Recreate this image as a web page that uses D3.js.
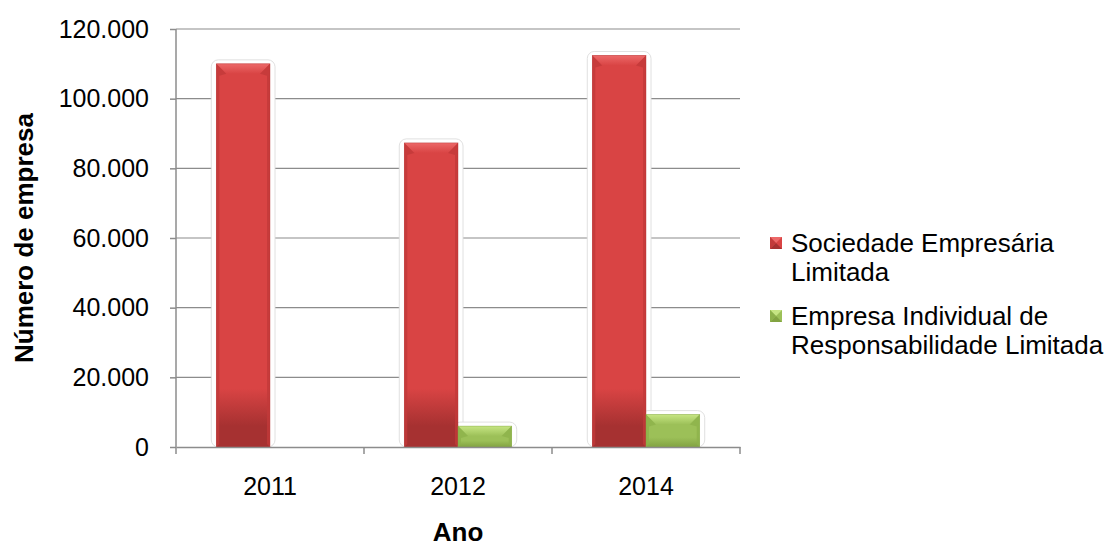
<!DOCTYPE html>
<html>
<head>
<meta charset="utf-8">
<script src="https://cdn.jsdelivr.net/npm/d3@7"></script>
<style>
  html, body { margin: 0; padding: 0; background: #fff; }
  svg { display: block; font-family: "Liberation Sans", Arial, sans-serif; }
</style>
</head>
<body>
<svg id="chart" width="1112" height="547"></svg>
<script>
// Número de empresas por natureza jurídica
const anos = ["2011", "2012", "2014"];
const seriesNames = ["Sociedade Empresária Limitada", "Empresa Individual de Responsabilidade Limitada"];
const sociedadeLimitada = [110000, 87300, 112400];
const eireli = [null, 6000, 9300];
const yTicks = [0, 20000, 40000, 60000, 80000, 100000, 120000];

const svg = d3.select("#chart");
const margin = { left: 176, right: 372, top: 29, bottom: 100 };
const W = 1112, H = 547;
const plotW = W - margin.left - margin.right;
const plotH = H - margin.top - margin.bottom;
const TICK_FS = 25, LEGEND_FS = 26, TITLE_FS = 26;

const ptBR = d3.formatLocale({ decimal: ",", thousands: ".", grouping: [3], currency: ["R$", ""] });
const fmt = ptBR.format(",.0f");

const x0 = d3.scaleBand().domain(anos).range([0, plotW]);
const inner = d3.scaleBand().domain([0, 1]).range([0, x0.bandwidth()]).paddingOuter(0.75).paddingInner(0);
const y = d3.scaleLinear().domain([0, 120000]).range([plotH, 0]);

const palette = [
  { base: "#d94444", top: "#ec6868", side: "#c23a3a", bottom: "#a63131", stroke: "#b53636" },
  { base: "#9cc058", top: "#c6e583", side: "#8db14b", bottom: "#82a342", stroke: "#86a845" }
];

const defs = svg.append("defs");
// red body: darkens gradually over the last stretch above the baseline
{
  const p = palette[0];
  const gr = defs.append("linearGradient").attr("id", "fill0")
    .attr("gradientUnits", "userSpaceOnUse")
    .attr("x1", 0).attr("x2", 0).attr("y1", 0).attr("y2", plotH);
  gr.append("stop").attr("offset", 0).attr("stop-color", p.base);
  gr.append("stop").attr("offset", 0.86).attr("stop-color", p.base);
  gr.append("stop").attr("offset", 0.95).attr("stop-color", p.bottom);
  gr.append("stop").attr("offset", 1).attr("stop-color", p.bottom);
}
// green body: gentle darkening within each bar
{
  const p = palette[1];
  const gr = defs.append("linearGradient").attr("id", "fill1")
    .attr("x1", 0).attr("x2", 0).attr("y1", 0).attr("y2", 1);
  gr.append("stop").attr("offset", 0).attr("stop-color", p.base);
  gr.append("stop").attr("offset", 0.7).attr("stop-color", p.base);
  gr.append("stop").attr("offset", 1).attr("stop-color", p.bottom);
}
palette.forEach((p, i) => {
  const t = defs.append("linearGradient").attr("id", "top" + i)
    .attr("x1", 0).attr("x2", 0).attr("y1", 0).attr("y2", 1);
  t.append("stop").attr("offset", 0).attr("stop-color", p.top);
  t.append("stop").attr("offset", 1).attr("stop-color", p.base);
});

const g = svg.append("g").attr("transform", `translate(${margin.left},${margin.top})`);

// gridlines
g.append("g").selectAll("line").data(yTicks.filter(d => d > 0)).join("line")
  .attr("x1", 0).attr("x2", plotW)
  .attr("y1", d => y(d)).attr("y2", d => y(d))
  .attr("stroke", "#8c8c8c").attr("stroke-width", 1.2);

// bar records
const bars = [];
anos.forEach((ano, i) => {
  [sociedadeLimitada[i], eireli[i]].forEach((v, s) => {
    if (v == null) return;
    bars.push({ ano, s, v, x: x0(ano) + inner(s), w: inner.bandwidth(), y: y(v), h: plotH - y(v) });
  });
});

// soft halo behind each bar
g.append("g").selectAll("rect").data(bars).join("rect")
  .attr("x", d => d.x - 5).attr("y", d => d.y - 4)
  .attr("width", d => d.w + 10).attr("height", d => d.h + 4)
  .attr("rx", 7)
  .attr("fill", "#fff").attr("stroke", "#dcdcdc").attr("stroke-width", 0.9);

// bevelled bars
const barG = g.append("g").selectAll("g").data(bars).join("g");
barG.append("rect")
  .attr("x", d => d.x).attr("y", d => d.y).attr("width", d => d.w).attr("height", d => d.h)
  .attr("fill", d => `url(#fill${d.s})`);
const bev = d => Math.min(10, d.h / 2, d.w / 2);
// top facet
barG.append("path")
  .attr("d", d => { const b = bev(d); return `M${d.x},${d.y}H${d.x + d.w}L${d.x + d.w - b},${d.y + b}H${d.x + b}Z`; })
  .attr("fill", d => `url(#top${d.s})`);
// side facets
barG.append("path")
  .attr("d", d => { const b = bev(d), s = 3; return `M${d.x},${d.y}L${d.x + b},${d.y + b}L${d.x + s},${d.y + b + 2}V${d.y + d.h - 3}L${d.x},${d.y + d.h}Z`; })
  .attr("fill", d => palette[d.s].side).attr("opacity", 0.8);
barG.append("path")
  .attr("d", d => { const b = bev(d), s = 3, r = d.x + d.w; return `M${r},${d.y}L${r - b},${d.y + b}L${r - s},${d.y + b + 2}V${d.y + d.h - 3}L${r},${d.y + d.h}Z`; })
  .attr("fill", d => palette[d.s].side).attr("opacity", 0.8);
barG.append("rect")
  .attr("x", d => d.x).attr("y", d => d.y).attr("width", d => d.w).attr("height", d => d.h)
  .attr("fill", "none").attr("stroke", d => palette[d.s].stroke).attr("stroke-width", 0.6).attr("opacity", 0.7);

// axes
const yAxis = g.append("g").call(d3.axisLeft(y).tickValues(yTicks).tickFormat(fmt).tickSize(6).tickPadding(21));
const xAxis = g.append("g").attr("transform", `translate(0,${plotH})`)
  .call(d3.axisBottom(x0).tickSize(0).tickPadding(30));
[yAxis, xAxis].forEach(a => {
  a.select(".domain").attr("stroke", "#8c8c8c").attr("stroke-width", 1.5);
  a.selectAll(".tick line").attr("stroke", "#8c8c8c").attr("stroke-width", 1.5);
  a.selectAll("text").attr("font-size", TICK_FS).attr("fill", "#000")
    .attr("font-family", "'Liberation Sans', Arial, sans-serif");
});
yAxis.select(".domain").attr("d", `M0,${plotH}V0`);
// category boundary ticks on the x axis
g.append("g").selectAll("line").data(d3.range(anos.length + 1)).join("line")
  .attr("x1", i => i * x0.step()).attr("x2", i => i * x0.step())
  .attr("y1", plotH).attr("y2", plotH + 7)
  .attr("stroke", "#8c8c8c").attr("stroke-width", 1.5);

// axis titles
svg.append("text").attr("x", margin.left + plotW / 2).attr("y", 541)
  .attr("text-anchor", "middle").attr("font-size", TITLE_FS).attr("font-weight", "bold").text("Ano");
svg.append("text").attr("transform", `translate(33,${margin.top + plotH / 2}) rotate(-90)`)
  .attr("text-anchor", "middle").attr("font-size", TITLE_FS).attr("font-weight", "bold").text("Número de empresa");

// legend
const legendItems = [
  { s: 0, lines: ["Sociedade Empresária", "Limitada"], y: 243 },
  { s: 1, lines: ["Empresa Individual de", "Responsabilidade Limitada"], y: 316 }
];
const lg = svg.append("g");
legendItems.forEach(it => {
  const p = palette[it.s], cx = 776, cy = it.y, r = 6;
  lg.append("rect").attr("x", cx - r).attr("y", cy - r).attr("width", 2 * r).attr("height", 2 * r).attr("fill", p.base);
  lg.append("path").attr("d", `M${cx - r},${cy - r}H${cx + r}L${cx},${cy}Z`).attr("fill", p.top);
  lg.append("path").attr("d", `M${cx - r},${cy + r}H${cx + r}L${cx},${cy}Z`).attr("fill", p.bottom);
  lg.append("path").attr("d", `M${cx - r},${cy - r}V${cy + r}L${cx},${cy}Z`).attr("fill", p.side);
  const t = lg.append("text").attr("x", 791).attr("y", cy + 9).attr("font-size", LEGEND_FS).attr("fill", "#000");
  it.lines.forEach((ln, k) => t.append("tspan").attr("x", 791).attr("dy", k === 0 ? 0 : 28.8).text(ln));
});
</script>
</body>
</html>
